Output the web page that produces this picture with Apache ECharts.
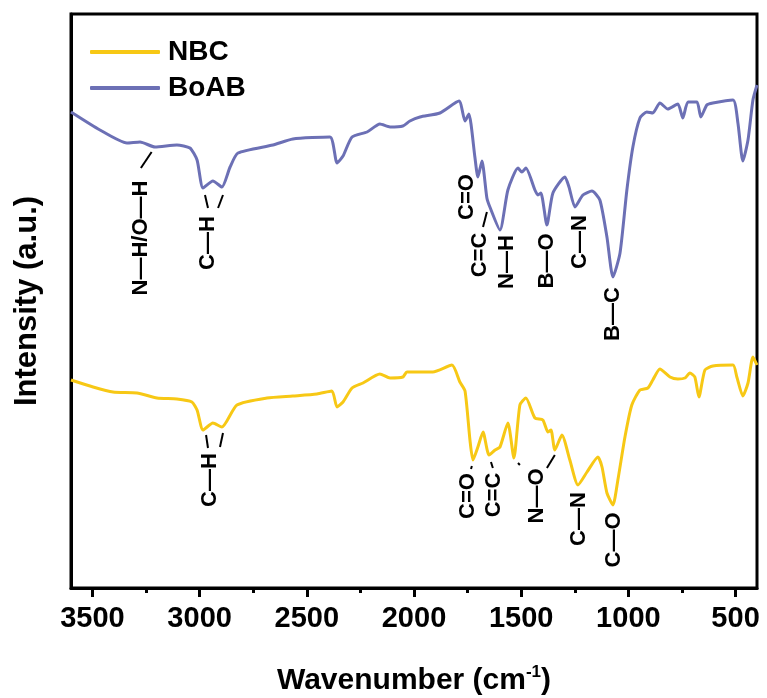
<!DOCTYPE html>
<html>
<head>
<meta charset="utf-8">
<title>FTIR</title>
<script src="https://cdn.jsdelivr.net/npm/echarts@6.0.0/dist/echarts.min.js"></script>
<style>
  html, body { margin: 0; padding: 0; background: #fff; }
  #ftirChart { width: 767px; height: 698px; }
</style>
</head>
<body>
<div id="ftirChart"></div>
<script>
// wavenumber (cm-1) and intensity (a.u.)
var boabWn = [3600,3465,3339,3278,3208,3106,3045,3012,2984,2938,2896,2858,2821,2658,2565,2392,2359,2331,2289,2219,2159,2112,2052,2019,1972,1879,1790,1762,1744,1716,1702,1683,1660,1646,1599,1562,1515,1497,1478,1436,1422,1408,1380,1352,1296,1277,1249,1212,1170,1133,1100,1072,1039,1007,979,946,914,886,853,816,769,746,722,680,662,634,606,512,489,466,442,419,400];
var boabVal = [476,458,445,446,441,443,440,428,400,407,401,421,435,443,449,451,425,432,451,456,464,461,462,467,471,475,487,467,474,431,411,427,390,381,358,398,420,416,420,398,393,395,363,395,411,401,381,393,397,388,351,311,335,398,441,470,476,475,485,479,484,470,486,486,471,483,485,488,465,427,448,488,503];

var nbcWn = [3600,3497,3404,3292,3199,3106,3036,3012,2984,2938,2896,2826,2686,2565,2453,2383,2359,2331,2289,2238,2159,2112,2052,2033,1912,1823,1786,1762,1739,1725,1702,1678,1650,1622,1599,1562,1534,1506,1478,1436,1399,1375,1361,1343,1310,1273,1235,1193,1142,1123,1100,1072,1049,1016,984,946,909,886,853,806,769,736,713,690,671,643,606,512,494,466,442,419,400];
var nbcVal = [208,201,196,195,190,189,186,178,158,165,161,183,190,192,194,197,181,186,200,205,214,210,211,216,216,223,206,197,148,128,141,156,133,138,141,165,130,183,190,170,168,156,158,138,153,128,103,116,131,121,95,83,108,151,183,198,200,208,219,211,209,210,215,211,191,218,222,223,211,192,205,231,223];

var majorTicks = [3500,3000,2500,2000,1500,1000,500];
var minorTicks = [3250,2750,2250,1750,1250,750];

// band assignments: label text and where it sits (wavenumber, intensity)
var annoText = ['N—H/O—H','C—H','C=O','C=C','N—H','B—O','C—N','B—C','C—H','C=O','C=C','N—O','C—N','C—O'];
var annoWn = [3274,2961,1753,1692,1566,1380,1226,1072,2952,1748,1627,1427,1231,1067];
var annoVal = [350,345,391,333,326,327,346,274,108,92,93,92,69,48];
// leader lines [wn1, val1, wn2, val2]
var leaders = [[3224,436,3274,420],[2975,393,2961,380],[2891,393,2914,380],[1660,376,1678,361],
               [2970,153,2961,140],[2891,155,2905,141],[1730,122,1734,119],[1641,126,1632,120],
               [1515,125,1506,123],[1343,133,1380,120]];

var FONT = 'Arial, "Liberation Sans", sans-serif';

function zip(xs, ys){
  var out = [];
  for (var i = 0; i < xs.length; i++) out.push([xs[i], ys[i]]);
  return out;
}

var chart = echarts.init(document.getElementById('ftirChart'), null, {renderer: 'canvas'});

chart.setOption({
  animation: false,
  grid: {
    left: 71, right: 10, top: 14, bottom: 110,
    show: true, borderColor: '#000', borderWidth: 3,
    containLabel: false, outerBoundsMode: 'none'
  },
  legend: {
    data: ['NBC', 'BoAB'],
    orient: 'vertical',
    left: 85, top: 33,
    icon: 'roundRect',
    itemWidth: 70, itemHeight: 4,
    itemGap: 8,
    textStyle: {fontFamily: FONT, fontSize: 28, fontWeight: 'bold', color: '#000', padding: [0,0,0,3]}
  },
  xAxis: [
    {
      type: 'value', min: 400, max: 3600, inverse: true,
      name: '{t|Wavenumber (cm}{s|-1}{t|)}',
      nameLocation: 'middle', nameGap: 76,
      nameTextStyle: {
        rich: {
          t: {fontFamily: FONT, fontSize: 30, fontWeight: 'bold', color: '#000', lineHeight: 34},
          s: {fontFamily: FONT, fontSize: 17, fontWeight: 'bold', color: '#000', verticalAlign: 'top', lineHeight: 34, padding: [0,0,14,0]}
        }
      },
      axisLine: {show: true, lineStyle: {color: '#000', width: 3}},
      axisTick: {show: true, inside: false, length: 9, lineStyle: {color: '#000', width: 3}, customValues: majorTicks},
      axisLabel: {
        show: true, margin: 16, fontFamily: FONT, fontSize: 29, fontWeight: 'bold', color: '#000',
        customValues: majorTicks,
        formatter: function (value) {
          return value + '';
        }
      },
      splitLine: {show: false}
    },
    {
      type: 'value', min: 400, max: 3600, inverse: true,
      position: 'bottom',
      axisLine: {show: false},
      axisTick: {show: true, inside: false, length: 5, lineStyle: {color: '#000', width: 3}, customValues: minorTicks},
      axisLabel: {show: false},
      splitLine: {show: false}
    }
  ],
  yAxis: {
    type: 'value', min: 0, max: 574,
    name: 'Intensity (a.u.)',
    nameLocation: 'middle', nameRotate: 90, nameGap: 28,
    nameTextStyle: {fontFamily: FONT, fontSize: 31, fontWeight: 'bold', color: '#000'},
    axisLine: {show: true, lineStyle: {color: '#000', width: 3}},
    axisTick: {show: false},
    axisLabel: {show: false},
    splitLine: {show: false}
  },
  series: [
    {
      name: 'NBC', type: 'line', xAxisIndex: 0,
      data: zip(nbcWn, nbcVal),
      symbol: 'none', smooth: 0.2,
      itemStyle: {color: '#F7C815'},
      lineStyle: {color: '#F7C815', width: 3}
    },
    {
      name: 'BoAB', type: 'line', xAxisIndex: 0,
      data: zip(boabWn, boabVal),
      symbol: 'none', smooth: 0.2,
      itemStyle: {color: '#6C70B5'},
      lineStyle: {color: '#6C70B5', width: 3}
    }
  ]
});

// band labels + leader lines placed through the axis scales
function toPx(wn, v){
  return chart.convertToPixel({seriesIndex: 0}, [wn, v]);
}
var elements = [];
for (var i = 0; i < annoText.length; i++) {
  var p = toPx(annoWn[i], annoVal[i]);
  elements.push({
    type: 'text', x: p[0], y: p[1], rotation: Math.PI / 2, z: 100,
    style: {text: annoText[i], fill: '#000', font: 'bold 22px ' + FONT, align: 'center', verticalAlign: 'middle'}
  });
}
for (var j = 0; j < leaders.length; j++) {
  var a = toPx(leaders[j][0], leaders[j][1]);
  var b = toPx(leaders[j][2], leaders[j][3]);
  elements.push({
    type: 'line', z: 100,
    shape: {x1: a[0], y1: a[1], x2: b[0], y2: b[1]},
    style: {stroke: '#000', lineWidth: 2}
  });
}
chart.setOption({graphic: elements});
</script>
</body>
</html>
